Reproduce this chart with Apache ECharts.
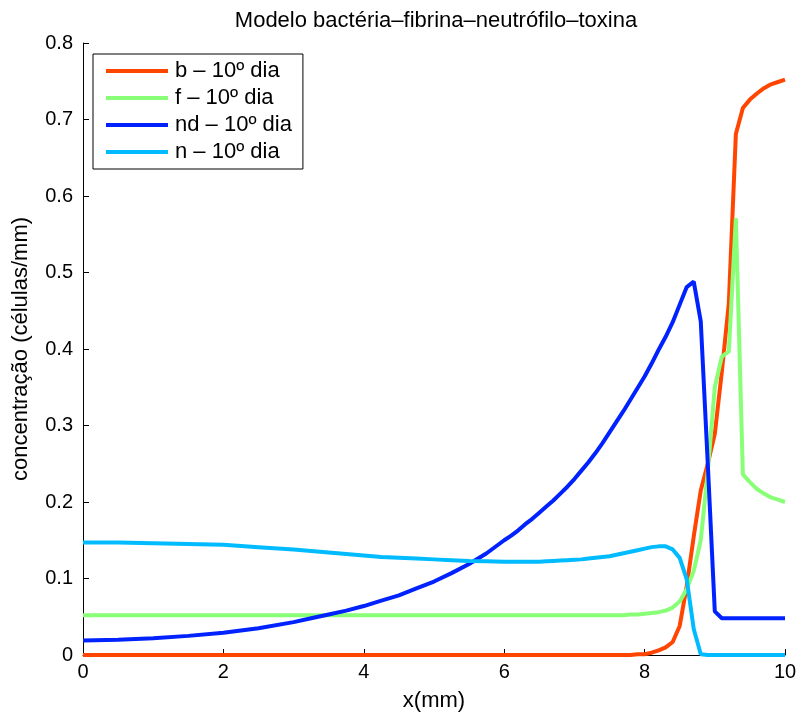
<!DOCTYPE html>
<html>
<head>
<meta charset="utf-8">
<script src="https://cdn.jsdelivr.net/npm/echarts@6/dist/echarts.min.js"></script>
<style>
  html, body { margin: 0; padding: 0; background: #fff; }
  #chart { width: 801px; height: 717px; }
</style>
</head>
<body>
<div id="chart"></div>
<script>
// Spatial positions (mm) shared by every profile
const xPos = [0, 0.5, 1, 1.5, 2, 2.5, 3,
  3.25, 3.5, 3.75, 4, 4.25, 4.5, 4.75, 5, 5.25, 5.5, 5.75, 6,
  6.1, 6.2, 6.3, 6.4, 6.5, 6.6, 6.7, 6.8, 6.9, 7.0,
  7.1, 7.2, 7.3, 7.4, 7.5, 7.6, 7.7, 7.8, 7.9, 8.0,
  8.1, 8.2, 8.3, 8.4, 8.5, 8.6, 8.7, 8.8, 8.9, 9.0,
  9.1, 9.2, 9.3, 9.4, 9.5, 9.6, 9.7, 9.8, 9.9, 10.0];

// Bacteria (b)
const bValues = [0, 0, 0, 0, 0, 0, 0,
  0, 0, 0, 0, 0, 0, 0, 0, 0, 0, 0, 0,
  0, 0, 0, 0, 0, 0, 0, 0, 0, 0,
  0, 0, 0, 0, 0, 0, 0, 0, 0.001, 0.001,
  0.003, 0.006, 0.010, 0.017, 0.038, 0.09, 0.155, 0.215, 0.25, 0.289,
  0.37, 0.46, 0.681, 0.715, 0.726, 0.734, 0.741, 0.746, 0.749, 0.752];

// Fibrin (f)
const fValues = [0.052, 0.052, 0.052, 0.052, 0.052, 0.052, 0.052,
  0.052, 0.052, 0.052, 0.052, 0.052, 0.052, 0.052, 0.052, 0.052, 0.052, 0.052, 0.052,
  0.052, 0.052, 0.052, 0.052, 0.052, 0.052, 0.052, 0.052, 0.052, 0.052,
  0.052, 0.052, 0.052, 0.052, 0.052, 0.052, 0.052, 0.053, 0.053, 0.054,
  0.055, 0.056, 0.058, 0.062, 0.070, 0.086, 0.11, 0.15, 0.24, 0.35,
  0.39, 0.397, 0.571, 0.236, 0.226, 0.217, 0.211, 0.206, 0.203, 0.200];

// Dead neutrophils (nd)
const ndValues = [0.019, 0.020, 0.022, 0.025, 0.029, 0.035, 0.043,
  0.048, 0.053, 0.058, 0.064, 0.071, 0.078, 0.087, 0.096, 0.107, 0.119, 0.133, 0.150,
  0.156, 0.163, 0.171, 0.178, 0.186, 0.194, 0.202, 0.211, 0.220, 0.230,
  0.241, 0.252, 0.264, 0.277, 0.291, 0.305, 0.319, 0.334, 0.349, 0.364,
  0.381, 0.399, 0.416, 0.435, 0.458, 0.481, 0.488, 0.436, 0.25, 0.057,
  0.048, 0.048, 0.048, 0.048, 0.048, 0.048, 0.048, 0.048, 0.048, 0.048];

// Neutrophils (n)
const nValues = [0.147, 0.147, 0.146, 0.145, 0.144, 0.141, 0.138,
  0.136, 0.134, 0.132, 0.130, 0.128, 0.127, 0.126, 0.125, 0.124, 0.123, 0.1225, 0.122,
  0.122, 0.122, 0.122, 0.122, 0.122, 0.1225, 0.123, 0.1235, 0.124, 0.1245,
  0.125, 0.126, 0.127, 0.128, 0.129, 0.131, 0.133, 0.135, 0.137, 0.139,
  0.141, 0.142, 0.142, 0.138, 0.127, 0.099, 0.034, 0.001, 0, 0,
  0, 0, 0, 0, 0, 0, 0, 0, 0, 0];

const seriesNames = ['b \u2013 10\u00ba dia', 'f \u2013 10\u00ba dia', 'nd \u2013 10\u00ba dia', 'n \u2013 10\u00ba dia'];
const seriesColors = ['#ff4500', '#88ff77', '#0022ff', '#00bbff'];
const seriesData = [bValues, fValues, ndValues, nValues];

const FONT = '"Liberation Sans", Arial, Helvetica, sans-serif';

const chart = echarts.init(document.getElementById('chart'), null, { renderer: 'canvas' });

const series = seriesData.map((vals, i) => ({
  name: seriesNames[i],
  type: 'line',
  data: xPos.map((x, k) => [x, vals[k]]),
  symbol: 'none',
  smooth: false,
  animation: false,
  lineStyle: { color: seriesColors[i], width: 4 },
  itemStyle: { color: seriesColors[i] },
  z: 2 + i
}));

chart.setOption({
  animation: false,
  backgroundColor: '#ffffff',
  title: {
    text: 'Modelo bact\u00e9ria\u2013fibrina\u2013neutr\u00f3filo\u2013toxina',
    left: 431,
    textAlign: 'center',
    top: 5,
    textStyle: { fontFamily: FONT, fontSize: 22, fontWeight: 'normal', color: '#000' }
  },
  legend: {
    orient: 'vertical',
    left: 93,
    top: 54,
    padding: [6, 11, 6, 13],
    itemGap: 5,
    itemWidth: 62,
    itemHeight: 4,
    icon: 'rect',
    borderColor: '#000',
    borderWidth: 1,
    backgroundColor: '#fff',
    data: seriesNames,
    textStyle: { fontFamily: FONT, fontSize: 22, color: '#000', lineHeight: 22, padding: [0, 0, 0, 2] }
  },
  grid: { left: 83, right: 16, top: 43, bottom: 61, containLabel: false },
  xAxis: {
    type: 'value',
    min: 0,
    max: 10,
    interval: 2,
    name: 'x(mm)',
    nameLocation: 'middle',
    nameGap: 35,
    nameTextStyle: { fontFamily: FONT, fontSize: 22, color: '#000' },
    axisLine: { show: true, lineStyle: { color: '#000', width: 1 } },
    axisTick: { show: true, inside: true, length: 6, lineStyle: { color: '#000' } },
    axisLabel: { fontFamily: FONT, fontSize: 20, color: '#000', margin: 7 },
    splitLine: { show: false }
  },
  yAxis: {
    type: 'value',
    min: 0,
    max: 0.8,
    interval: 0.1,
    name: 'concentra\u00e7\u00e3o (c\u00e9lulas/mm)',
    nameLocation: 'middle',
    nameGap: 51,
    nameTextStyle: { fontFamily: FONT, fontSize: 22, color: '#000' },
    axisLine: { show: true, lineStyle: { color: '#000', width: 1 } },
    axisTick: { show: true, inside: true, length: 6, lineStyle: { color: '#000' } },
    axisLabel: {
      fontFamily: FONT, fontSize: 20, color: '#000', margin: 10,
      formatter: v => (Math.abs(v) < 1e-9 ? '0' : v.toFixed(1))
    },
    splitLine: { show: false }
  },
  series: series
});
</script>
</body>
</html>
